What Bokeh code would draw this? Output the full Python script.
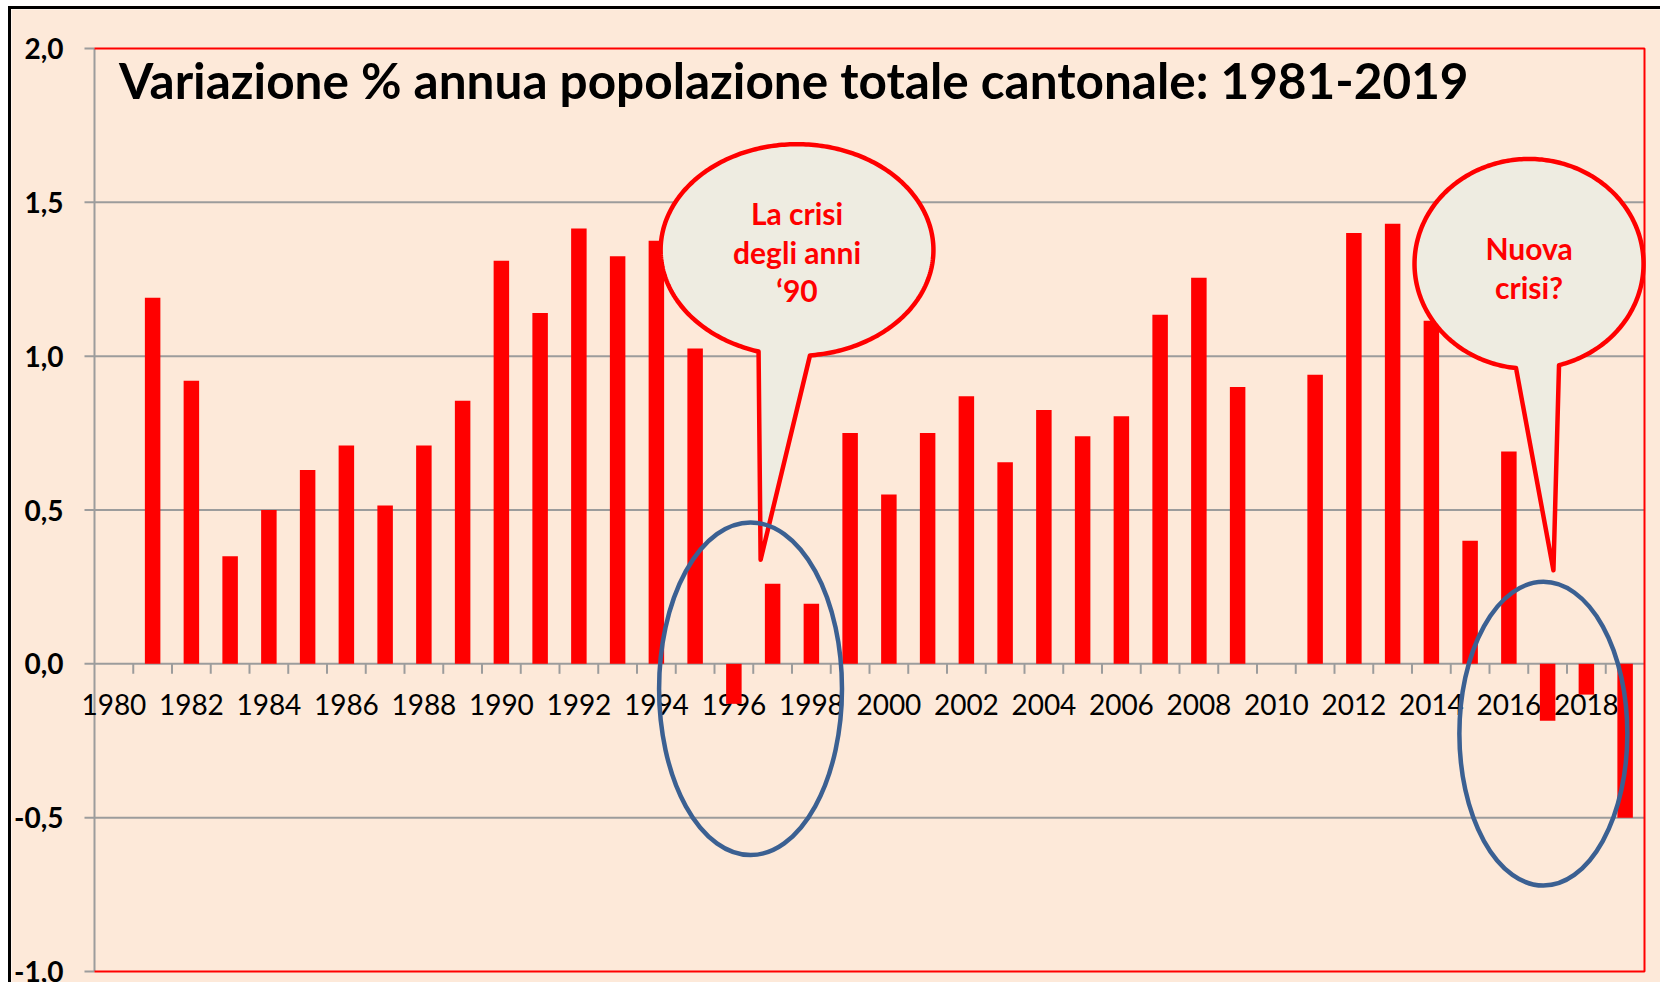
import numpy as np
from bokeh.plotting import figure
from bokeh.models import Range1d, Label, ColumnDataSource
from bokeh.core.properties import value
from bokeh.embed import file_html
from bokeh.resources import INLINE

# ---------------- data ----------------
years = list(range(1980, 2020))
variazione = [None, 1.19, 0.92, 0.35, 0.50, 0.63, 0.71, 0.515, 0.71, 0.855,
              1.31, 1.14, 1.415, 1.325, 1.375, 1.025, -0.13, 0.26, 0.195, 0.75,
              0.55, 0.75, 0.87, 0.655, 0.825, 0.74, 0.805, 1.135, 1.255, 0.90,
              None, 0.94, 1.40, 1.43, 1.115, 0.40, 0.69, -0.185, -0.10, -0.50]
tick_years = list(range(1980, 2020, 2))
tick_labels = [str(y) for y in tick_years]
y_ticks = [-1.0, -0.5, 0.0, 0.5, 1.0, 1.5, 2.0]
y_tick_labels = ["-1,0", "-0,5", "0,0", "0,5", "1,0", "1,5", "2,0"]
title_text = "Variazione % annua popolazione totale cantonale: 1981-2019"
bubble1_lines = ["La crisi", "degli anni", "\u201890"]
bubble2_lines = ["Nuova", "crisi?"]

# ---------------- style / geometry ----------------
BG = "#FDE9D9"
RED = "#FF0000"
GRID = "#9C9C9C"
BLUE = "#3B6092"
BUBBLE_FILL = "#EEECE1"
FONT = "Lato"

W, H = 1652, 976                 # canvas size
PAD_L, PAD_R, PAD_T, PAD_B = 83, 19, 39, 14   # plot area inset inside canvas
X0, X1 = years[0] - 0.5, years[-1] + 0.5
Y0, Y1 = y_ticks[0], y_ticks[-1]
ppx = (W - PAD_L - PAD_R) / (X1 - X0)
ppy = (H - PAD_T - PAD_B) / (Y1 - Y0)

p = figure(width=W, height=H,
           x_range=Range1d(X0 - PAD_L / ppx, X1 + PAD_R / ppx),
           y_range=Range1d(Y0 - PAD_B / ppy, Y1 + PAD_T / ppy),
           output_backend="svg", toolbar_location=None,
           x_axis_location=None, y_axis_location=None, title_location=None,
           min_border=0, min_border_left=0, min_border_right=0,
           min_border_top=0, min_border_bottom=0,
           background_fill_color=BG, border_fill_color=BG,
           outline_line_color=None)
p.styles = {"margin-left": "8px", "margin-top": "6px",
            "border-left": "3px solid black", "border-top": "3px solid black"}
p.grid.visible = False

# horizontal gridlines (inner ones gray; outer box red)
inner = [t for t in y_ticks if Y0 < t < Y1]
p.segment(x0=[X0] * len(inner), x1=[X1] * len(inner), y0=inner, y1=inner,
          line_color=GRID, line_width=2)

# y axis: line, ticks, labels
tick_len_x = 10 / ppx
p.segment(x0=[X0], x1=[X0], y0=[Y0], y1=[Y1], line_color=GRID, line_width=2)
p.segment(x0=[X0 - tick_len_x] * len(y_ticks), x1=[X0] * len(y_ticks),
          y0=y_ticks, y1=y_ticks, line_color=GRID, line_width=2)
p.text(x=[X0 - 31 / ppx] * len(y_ticks), y=y_ticks, text=y_tick_labels,
       text_font=value(FONT), text_font_style="bold", text_font_size="28px",
       text_color="black", text_align="right", text_baseline="middle")

# x axis at y = 0: tick marks between categories + labels
boundaries = [y + 0.5 for y in years[:-1]]
p.segment(x0=boundaries, x1=boundaries, y0=[0.0] * len(boundaries),
          y1=[-10 / ppy] * len(boundaries), line_color=GRID, line_width=2)
p.text(x=tick_years, y=[-0.133] * len(tick_years), text=tick_labels,
       text_font=value(FONT), text_font_size="28px", text_color="black",
       text_align="center", text_baseline="middle")

# bars
src = ColumnDataSource(dict(x=years, top=np.array(variazione, dtype=float)))
p.vbar(x="x", top="top", bottom=0, width=0.4, source=src,
       fill_color=RED, line_color=None)


def bubble(cx, cy, a, b, left_frac, right_frac, tip):
    tl = -np.arccos(left_frac)
    tr = -np.arccos(right_frac)
    t = np.linspace(tr, tl + 2 * np.pi, 300)
    xs = list(cx + a * np.cos(t)) + [tip[0]]
    ys = list(cy + b * np.sin(t)) + [tip[1]]
    p.patch(xs, ys, fill_color=BUBBLE_FILL, line_color=RED, line_width=4.5,
            line_join="round")


bubble(1997.63, 1.345, 3.52, 0.344, -0.282, 0.095, (1996.69, 0.338))
bubble(2016.52, 1.300, 2.955, 0.341, -0.1135, 0.262, (2017.15, 0.304))

p.text(x=[1997.63] * 3, y=[1.466, 1.339, 1.216], text=bubble1_lines,
       text_font=value(FONT), text_font_style="bold", text_font_size="30px",
       text_color=RED, text_align="center", text_baseline="middle")
p.text(x=[2016.52] * 2, y=[1.352, 1.226], text=bubble2_lines,
       text_font=value(FONT), text_font_style="bold", text_font_size="30px",
       text_color=RED, text_align="center", text_baseline="middle")

# blue highlight ellipses
p.ellipse(x=[1996.43, 2016.89], y=[-0.081, -0.227], width=[4.72, 4.335],
          height=[1.081, 0.987], fill_color=None, line_color=BLUE, line_width=4.5)

# red plot-area border (top, right, bottom)
p.line(x=[X0, X1, X1, X0], y=[Y1, Y1, Y0, Y0], line_color=RED, line_width=2)

p.add_layout(Label(x=1980.13, y=1.898, text=title_text, text_font=FONT,
                   text_font_style="bold", text_font_size="49.5px",
                   text_color="black", text_baseline="alphabetic"))

open("out.html", "w").write(file_html(p, INLINE))
